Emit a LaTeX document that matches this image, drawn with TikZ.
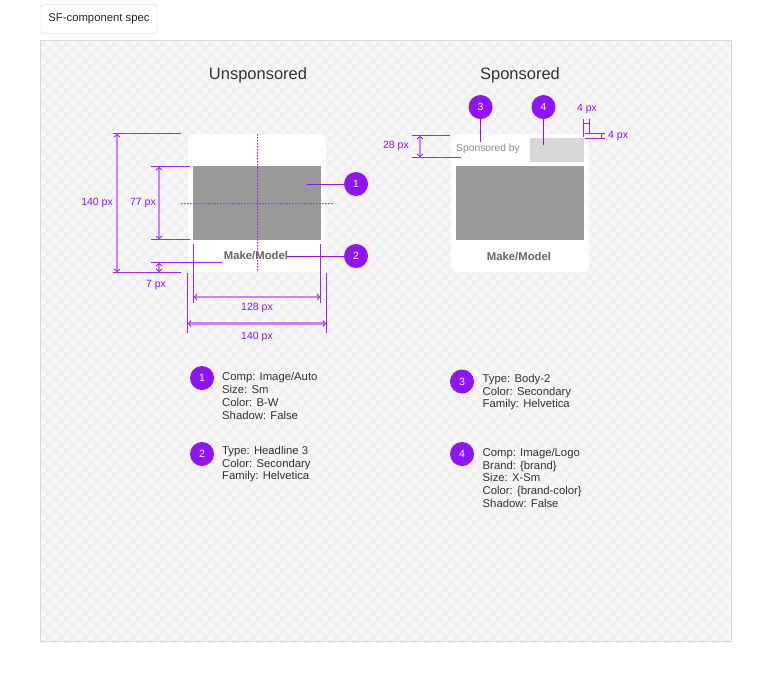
\documentclass[tikz,border=0pt]{standalone}
\usepackage{fontspec}
\setmainfont{Liberation Sans}
\usetikzlibrary{arrows.meta}
\definecolor{purp}{HTML}{9013FE}
\definecolor{thinpurp}{HTML}{9A28FF}
\definecolor{lpurp}{HTML}{C983FF}
\definecolor{canvasbg}{HTML}{F7F7F7}
\definecolor{chkdark}{HTML}{F0F0F0}
\definecolor{imggray}{HTML}{999999}
\definecolor{logogray}{HTML}{D8D8D8}
\definecolor{txt}{HTML}{333333}
\definecolor{mmgray}{HTML}{666666}
% thin dimension lines drawn as filled bars: \myhl{x1}{x2}{y}, \myvl{x}{y1}{y2}
\newcommand\myhl[3]{\fill[thinpurp] (#1,{#3-0.55}) rectangle (#2,{#3+0.55});}
\newcommand\myvl[3]{\fill[thinpurp] ({#1-0.55},#2) rectangle ({#1+0.55},#3);}
\begin{document}
\begin{tikzpicture}[x=1pt,y=-1pt,
  dimarrow/.style={draw=lpurp, line width=2.6pt,
    {Straight Barb[length=2.5pt,width=6pt,color=purp,line width=0.8pt]}-{Straight Barb[length=2.5pt,width=6pt,color=purp,line width=0.8pt]}},
  dimlabel/.style={text=purp, font=\fontsize{10.5}{12}\selectfont, inner sep=0pt},
  callout/.style={circle, fill=purp, text=white, minimum size=24pt, inner sep=0pt, font=\fontsize{10.5}{12}\selectfont},
  leader/.style={draw=purp, line width=1pt},
  legend/.style={align=left, anchor=north west, text=txt, inner sep=0pt, font=\fontsize{11.3}{12.8}\selectfont},
  title/.style={text=txt, font=\fontsize{16.5}{19}\selectfont},
  card/.style={fill=white, rounded corners=6pt},
  mm/.style={text=mmgray, font=\fontsize{11.3}{13}\selectfont\bfseries}
]
\useasboundingbox (0,0) rectangle (773,683);
\fill[white] (0,0) rectangle (773,683);

% tab
\node[draw=black!20, fill=white, rounded corners=3pt, minimum width=116pt, minimum height=29pt, inner sep=0pt,
  text=black!85, font=\fontsize{11.3}{13}\selectfont] (tab) at (99,19) {SF-component spec};

% canvas with subtle checker
\fill[canvasbg] (40,40) rectangle (732,642);
\begin{scope}
\clip (40,40) rectangle (732,642);
\fill[chkdark]
  \foreach \j in {0,...,100}{
    \foreach \i in {0,2,...,114}{
      ({40+(\i+mod(\j,2))*6},{40+\j*6}) rectangle ++(6,6)
    }
  };
\end{scope}
\fill[black!15] (40,40) rectangle (732,41);
\fill[black!15] (40,641) rectangle (732,642);
\fill[black!15] (40,40) rectangle (41,642);
\fill[black!15] (731,40) rectangle (732,642);

% titles
\node[title] (t1) at (258,75) {Unsponsored};
\node[title] (t2) at (520,75) {Sponsored};

% ---------- left card ----------
\fill[card] (188,134) rectangle (326,272);
\fill[imggray] (193,166) rectangle (321,240);
\node[mm] (mm1) at (256,256) {Make/Model};

% dotted centre lines
\fill[thinpurp] \foreach \k in {0,...,45} { (257,{134+3*\k}) rectangle ++(1.1,1.5) };
\fill[thinpurp] \foreach \k in {0,...,50} { ({181+3*\k},203) rectangle ++(1.5,1.1) };

% 140 px vertical
\myhl{113}{181}{133.5}
\myhl{113}{181}{272.5}
\draw[dimarrow] (117,134) -- (117,272);
\node[dimlabel, anchor=east] (l140v) at (113,203) {140 px};

% 77 px
\myhl{151}{190}{166.5}
\myhl{151}{190}{239.5}
\draw[dimarrow] (159,167) -- (159,239);
\node[dimlabel, anchor=east] (l77) at (156,203) {77 px};

% 7 px
\myhl{151}{222}{262.5}
\draw[dimarrow] (159,263) -- (159,272);
\node[dimlabel] (l7) at (156,285) {7 px};

% width dims
\myvl{193.5}{244}{303}
\myvl{320.5}{244}{303}
\myvl{187.5}{273}{333}
\myvl{326.5}{273}{333}
\draw[dimarrow] (194,297) -- (320,297);
\node[dimlabel] (l128) at (257,308) {128 px};
\draw[dimarrow] (188,323.5) -- (326,323.5);
\node[dimlabel] (l140h) at (257,337) {140 px};

% callouts 1, 2
\node[callout] (c1) at (356,184) {1};
\node[callout] (c2) at (356,256) {2};
\coordinate (p1) at (307,184.5);
\coordinate (p2) at (287,256.5);
\draw[leader] (p1) -- (c1.west |- p1);
\draw[leader] (p2) -- (c2.west |- p2);

% ---------- right card ----------
\fill[card] (451,134) rectangle (589,272);
\fill[logogray] (530,138) rectangle (584,162);
\fill[imggray] (456,166) rectangle (584,240);
\node[anchor=west, inner sep=0pt, text=black!45, font=\fontsize{10.3}{12}\selectfont] (spb) at (456,149) {Sponsored by};
\node[mm] (mm2) at (519,256.5) {Make/Model};

% callouts 3, 4
\node[callout] (c3) at (480.5,107) {3};
\node[callout] (c4) at (543.5,107) {4};
\coordinate (p3) at (480.5,142);
\coordinate (p4) at (543.5,145);
\draw[leader] (c3) -- (p3);
\draw[leader] (c4) -- (p4);

% 28 px
\myhl{412}{450}{135.5}
\myhl{412}{461}{157.5}
\draw[dimarrow] (420,136) -- (420,157);
\node[dimlabel, anchor=east] (l28) at (409,146) {28 px};

% 4 px (top)
\myvl{583.5}{119}{137}
\myvl{589.5}{119}{133}
\myhl{583.5}{589.5}{123.5}
\node[dimlabel] (l4a) at (587,109) {4 px};

% 4 px (right)
\myhl{585}{605}{133.5}
\myhl{585}{605}{138.5}
\myvl{601.5}{133.5}{138.5}
\node[dimlabel, anchor=west] (l4b) at (608,136) {4 px};

% ---------- legends ----------
\node[callout] (g1) at (202,378) {1};
\node[legend] (d1) at (222,372.5) {Comp: Image/Auto\\Size: Sm\\Color: B-W\\Shadow: False};
\node[callout] (g2) at (202,454) {2};
\node[legend] (d2) at (222,446) {Type: Headline 3\\Color: Secondary\\Family: Helvetica};
\node[callout] (g3) at (462,381.5) {3};
\node[legend] (d3) at (482.5,374) {Type: Body-2\\Color: Secondary\\Family: Helvetica};
\node[callout] (g4) at (462,454) {4};
\node[legend] (d4) at (482.5,448) {Comp: Image/Logo\\Brand: \{brand\}\\Size: X-Sm\\Color: \{brand-color\}\\Shadow: False};
\end{tikzpicture}
\end{document}
